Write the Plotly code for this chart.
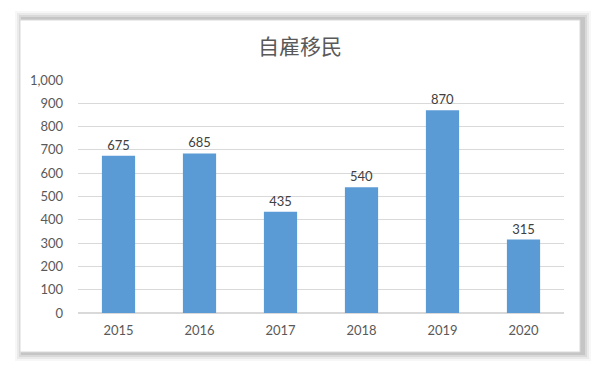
import plotly.graph_objects as go

years = ["2015", "2016", "2017", "2018", "2019", "2020"]
values = [675, 685, 435, 540, 870, 315]
title_text = "自雇移民"

L, R, T, B = 78, 36, 80, 54
W, H = 600, 367
pw, ph = W - L - R, H - T - B

def px(x):
    return (x - L) / pw

def py(y):
    return (H - B - y) / ph

fig = go.Figure()
fig.add_trace(go.Bar(
    x=years, y=values,
    marker=dict(color="#5B9BD5", line=dict(width=0)),
    text=values, texttemplate="%{text}", textposition="outside",
    textfont=dict(family="Lato, Open Sans, sans-serif", size=13, color="#404040"),
    cliponaxis=False,
))

shapes = []
# soft shadow layers
for i, op in enumerate([0.03, 0.05, 0.07, 0.09]):
    d = 8 - i * 2
    shapes.append(dict(type="rect", xref="paper", yref="paper", layer="below",
                       x0=px(20 - d + 3), x1=px(580 + d + 3), y0=py(352 + d + 1), y1=py(20 - d - 1),
                       fillcolor=f"rgba(0,0,0,{op})", line=dict(width=0)))
shapes.append(dict(type="rect", xref="paper", yref="paper", layer="below",
                   x0=px(20), x1=px(580), y0=py(352), y1=py(20),
                   fillcolor="white", line=dict(color="#d9d9d9", width=1)))

fig.update_layout(
    width=W, height=H,
    margin=dict(l=L, r=R, t=T, b=B),
    paper_bgcolor="white", plot_bgcolor="white",
    showlegend=False,
    bargap=0.59,
    shapes=shapes,
    title=dict(text=title_text, x=0.5, xanchor="center", y=1 - 47 / H, yanchor="middle",
               font=dict(family="Noto Sans CJK SC", size=21, color="#595959")),
    xaxis=dict(showgrid=False, showline=False, ticks="", zeroline=False,
               ticklabelstandoff=8,
               tickfont=dict(family="Lato, Open Sans, sans-serif", size=13, color="#595959")),
    yaxis=dict(range=[0, 1000], dtick=100, tickformat=",", showgrid=True, gridcolor="#d9d9d9",
               gridwidth=1, zeroline=True, zerolinecolor="#d9d9d9", showline=False, ticks="",
               ticklabelstandoff=14,
               tickfont=dict(family="Lato, Open Sans, sans-serif", size=13, color="#595959")),
    font=dict(family="Lato, Open Sans, sans-serif"),
)

fig.write_html("out.html", config={"displayModeBar": False},
               post_script="document.body.style.margin='0';document.body.style.padding='0';")
